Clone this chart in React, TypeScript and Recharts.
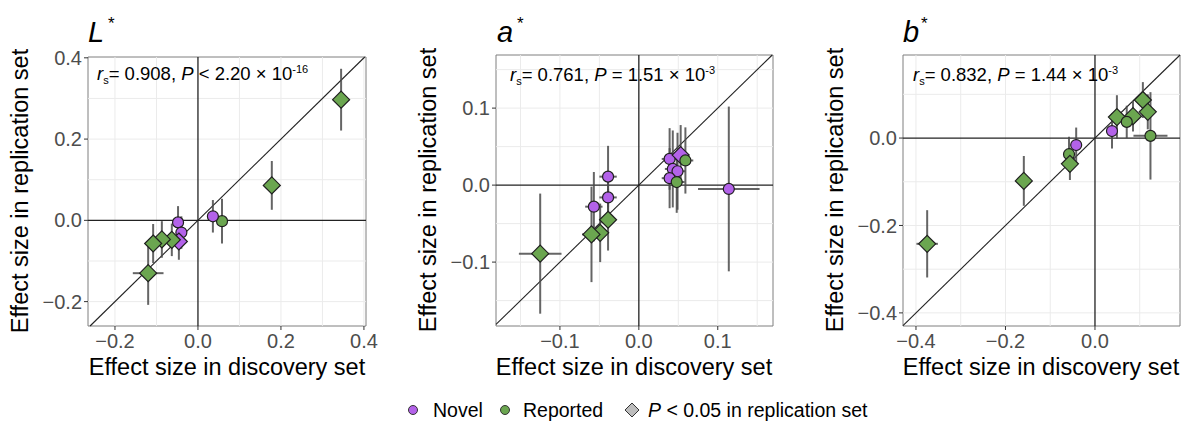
import React from "react";
import {
  ScatterChart,
  Scatter,
  XAxis,
  YAxis,
  ErrorBar,
  ReferenceLine,
  ReferenceArea,
} from "recharts";

const PURPLE = "#B362E9";
const GREEN = "#6BA650";
const FONT = '"Liberation Sans", Arial, Helvetica, sans-serif';

// L* — effect sizes (discovery vs replication) with 95% CI half-widths
const lDiscovery = [0.345, 0.178, 0.058, 0.036, -0.048, -0.04, -0.046, -0.063, -0.087, -0.108, -0.12];
const lReplication = [0.297, 0.086, -0.002, 0.01, -0.005, -0.03, -0.052, -0.048, -0.047, -0.057, -0.13];
const lDiscoveryErr = [0.012, 0.01, 0.012, 0.01, 0.01, 0.01, 0.01, 0.012, 0.012, 0.012, 0.037];
const lReplicationErr = [0.076, 0.06, 0.055, 0.04, 0.04, 0.04, 0.045, 0.04, 0.045, 0.048, 0.078];
const lGroup = ["Reported", "Reported", "Reported", "Novel", "Novel", "Novel", "Novel", "Reported", "Reported", "Reported", "Reported"];
const lSignificant = [true, true, false, false, false, false, true, true, true, true, true];

// a*
const aDiscovery = [-0.039, -0.039, -0.057, -0.039, -0.049, -0.06, -0.125, 0.039, 0.053, 0.059, 0.043, 0.049, 0.039, 0.048, 0.114];
const aReplication = [0.011, -0.016, -0.028, -0.045, -0.062, -0.064, -0.089, 0.034, 0.039, 0.032, 0.021, 0.018, 0.009, 0.004, -0.005];
const aDiscoveryErr = [0.011, 0.011, 0.011, 0.01, 0.01, 0.012, 0.027, 0.01, 0.01, 0.01, 0.01, 0.01, 0.01, 0.01, 0.039];
const aReplicationErr = [0.04, 0.03, 0.045, 0.04, 0.038, 0.062, 0.078, 0.04, 0.039, 0.043, 0.05, 0.05, 0.039, 0.04, 0.107];
const aGroup = ["Novel", "Novel", "Novel", "Reported", "Reported", "Reported", "Reported", "Novel", "Novel", "Reported", "Novel", "Novel", "Novel", "Reported", "Novel"];
const aSignificant = [false, false, false, true, true, true, true, false, true, false, false, false, false, false, false];

// b*
const bDiscovery = [0.107, 0.118, 0.085, 0.049, 0.071, 0.038, 0.124, -0.042, -0.058, -0.056, -0.159, -0.375];
const bReplication = [0.087, 0.06, 0.05, 0.048, 0.037, 0.016, 0.005, -0.016, -0.037, -0.059, -0.098, -0.242];
const bDiscoveryErr = [0.012, 0.012, 0.012, 0.012, 0.012, 0.01, 0.038, 0.01, 0.01, 0.01, 0.012, 0.024];
const bReplicationErr = [0.041, 0.04, 0.035, 0.05, 0.037, 0.04, 0.1, 0.04, 0.04, 0.037, 0.057, 0.077];
const bGroup = ["Reported", "Reported", "Reported", "Reported", "Reported", "Novel", "Reported", "Novel", "Reported", "Reported", "Reported", "Reported"];
const bSignificant = [true, true, true, true, false, false, false, false, false, true, true, true];

type Row = { x: number; y: number; ex: number; ey: number; group: string; sig: boolean };

function buildRows(
  disc: number[],
  rep: number[],
  discErr: number[],
  repErr: number[],
  group: string[],
  sig: boolean[]
): Row[] {
  return disc.map((x, i) => ({ x, y: rep[i], ex: discErr[i], ey: repErr[i], group: group[i], sig: sig[i] }));
}

const fmt = (v: number) => (v < 0 ? "\u2212" : "") + Math.abs(v).toFixed(1);

const renderPoint = (props: any) => {
  const { cx, cy, payload } = props;
  const fill = payload.group === "Novel" ? PURPLE : GREEN;
  if (payload.sig) {
    const r = 8.5;
    return (
      <polygon
        points={`${cx},${cy - r} ${cx + r},${cy} ${cx},${cy + r} ${cx - r},${cy}`}
        fill={fill}
        stroke="#1f1f1f"
        strokeWidth={1.2}
      />
    );
  }
  return <circle cx={cx} cy={cy} r={5.5} fill={fill} stroke="#1f1f1f" strokeWidth={1.2} />;
};

const panels = [
  {
    key: "L",
    left: 0,
    width: 400,
    margin: { top: 57, right: 34, bottom: 44, left: 38 },
    rows: buildRows(lDiscovery, lReplication, lDiscoveryErr, lReplicationErr, lGroup, lSignificant),
    xDomain: [-0.265, 0.405],
    yDomain: [-0.26, 0.402],
    xTicks: [-0.2, 0, 0.2, 0.4],
    yTicks: [-0.2, 0, 0.2, 0.4],
    xGrid: [-0.2, -0.1, 0.1, 0.2, 0.3, 0.4],
    yGrid: [-0.2, -0.1, 0.1, 0.2, 0.3],
  },
  {
    key: "a",
    left: 400,
    width: 400,
    margin: { top: 55, right: 27, bottom: 44, left: 46 },
    rows: buildRows(aDiscovery, aReplication, aDiscoveryErr, aReplicationErr, aGroup, aSignificant),
    xDomain: [-0.181, 0.17],
    yDomain: [-0.183, 0.169],
    xTicks: [-0.1, 0, 0.1],
    yTicks: [-0.1, 0, 0.1],
    xGrid: [-0.15, -0.1, -0.05, 0.05, 0.1, 0.15],
    yGrid: [-0.15, -0.1, -0.05, 0.05, 0.1, 0.15],
  },
  {
    key: "b",
    left: 800,
    width: 389,
    margin: { top: 55, right: 9, bottom: 44, left: 53 },
    rows: buildRows(bDiscovery, bReplication, bDiscoveryErr, bReplicationErr, bGroup, bSignificant),
    xDomain: [-0.429, 0.19],
    yDomain: [-0.43, 0.19],
    xTicks: [-0.4, -0.2, 0],
    yTicks: [-0.4, -0.2, 0],
    xGrid: [-0.4, -0.3, -0.2, -0.1, 0.1],
    yGrid: [-0.4, -0.3, -0.2, -0.1, 0.1],
  },
];

const tickStyle = { fill: "#4D4D4D", fontSize: 20, fontFamily: FONT };

function Panel({ p }: { p: (typeof panels)[number] }) {
  const [x0, x1] = p.xDomain;
  const [y0, y1] = p.yDomain;
  const d0 = Math.max(x0, y0);
  const d1 = Math.min(x1, y1);
  return (
    <div style={{ position: "absolute", left: p.left, top: 0 }}>
      <ScatterChart width={p.width} height={400} margin={p.margin}>
        {p.xGrid.map((v) => (
          <ReferenceLine key={"gx" + v} x={v} stroke="#EBEBEB" strokeWidth={1} />
        ))}
        {p.yGrid.map((v) => (
          <ReferenceLine key={"gy" + v} y={v} stroke="#EBEBEB" strokeWidth={1} />
        ))}
        <ReferenceLine y={0} stroke="#222" strokeWidth={1.3} />
        <ReferenceLine x={0} stroke="#222" strokeWidth={1.3} />
        <ReferenceLine
          segment={[
            { x: d0, y: d0 },
            { x: d1, y: d1 },
          ]}
          stroke="#222"
          strokeWidth={1.1}
        />
        <XAxis
          type="number"
          dataKey="x"
          domain={p.xDomain}
          ticks={p.xTicks}
          allowDataOverflow
          tickFormatter={fmt}
          tick={tickStyle}
          tickLine={{ stroke: "#333" }}
          tickSize={4}
          tickMargin={4}
          axisLine={false}
          height={30}
        />
        <YAxis
          type="number"
          dataKey="y"
          domain={p.yDomain}
          ticks={p.yTicks}
          allowDataOverflow
          tickFormatter={fmt}
          tick={tickStyle}
          tickLine={{ stroke: "#333" }}
          tickSize={4}
          tickMargin={2}
          axisLine={false}
          width={50}
        />
        <Scatter data={p.rows} shape={renderPoint} isAnimationActive={false}>
          <ErrorBar dataKey="ex" direction="x" width={0} stroke="#4a4a4a" strokeOpacity={0.85} strokeWidth={2} />
          <ErrorBar dataKey="ey" direction="y" width={0} stroke="#4a4a4a" strokeOpacity={0.85} strokeWidth={2} />
        </Scatter>
        <ReferenceArea x1={x0} x2={x1} y1={y0} y2={y1} fill="none" stroke="#7F7F7F" strokeWidth={1} />
      </ScatterChart>
    </div>
  );
}

// panel titles, correlation notes and axis titles
const titles = [
  { letter: "L", x: 88, star: 108 },
  { letter: "a", x: 497, star: 517 },
  { letter: "b", x: 903, star: 921 },
];
const notes = [
  { x: 97, y: 80, r: "0.908", op: "<", p: "2.20", exp: "-16" },
  { x: 510, y: 81, r: "0.761", op: "=", p: "1.51", exp: "-3" },
  { x: 913, y: 81, r: "0.832", op: "=", p: "1.44", exp: "-3" },
];
const axisTitles = [
  { yx: 28, cx: 227, cy: 191 },
  { yx: 436, cx: 634, cy: 190 },
  { yx: 843, cx: 1041, cy: 190 },
];

function Overlay() {
  return (
    <svg
      width={1189}
      height={427}
      style={{ position: "absolute", left: 0, top: 0, pointerEvents: "none", fontFamily: FONT }}
    >
      {titles.map((t) => (
        <g key={t.letter}>
          <text x={t.x} y={42} fontSize={29} fontStyle="italic" fill="#000">
            {t.letter}
          </text>
          <text x={t.star} y={29} fontSize={17} fill="#000">
            *
          </text>
        </g>
      ))}
      {notes.map((n) => (
        <text key={n.x} x={n.x} y={n.y} fontSize={18.5} fill="#000">
          <tspan fontStyle="italic">r</tspan>
          <tspan fontSize={11} dy={4}>s</tspan>
          <tspan dy={-4}>{`= ${n.r}, `}</tspan>
          <tspan fontStyle="italic">P</tspan>
          <tspan>{` ${n.op} ${n.p} × 10`}</tspan>
          <tspan fontSize={11} dy={-7}>{n.exp}</tspan>
        </text>
      ))}
      {axisTitles.map((a) => (
        <g key={a.cx}>
          <text x={a.cx} y={375} fontSize={23.5} textAnchor="middle" fill="#000">
            Effect size in discovery set
          </text>
          <text
            transform={`translate(${a.yx},${a.cy}) rotate(-90)`}
            fontSize={23.5}
            textAnchor="middle"
            fill="#000"
          >
            Effect size in replication set
          </text>
        </g>
      ))}
      <g fontSize={19.5} fill="#000">
        <circle cx={413} cy={410} r={4.5} fill={PURPLE} stroke="#333" strokeWidth={1} />
        <text x={433} y={417}>Novel</text>
        <circle cx={505} cy={410} r={4.5} fill={GREEN} stroke="#333" strokeWidth={1} />
        <text x={523} y={417}>Reported</text>
        <polygon points="632,403 639,410 632,417 625,410" fill="#BDBDBD" stroke="#333" strokeWidth={1} />
        <text x={648} y={417}>
          <tspan fontStyle="italic">P</tspan>
          <tspan>{" < 0.05 in replication set"}</tspan>
        </text>
      </g>
    </svg>
  );
}

export default function App() {
  return (
    <div style={{ position: "absolute", left: 0, top: 0, width: 1189, height: 427, background: "#fff" }}>
      {panels.map((p) => (
        <Panel key={p.key} p={p} />
      ))}
      <Overlay />
    </div>
  );
}
